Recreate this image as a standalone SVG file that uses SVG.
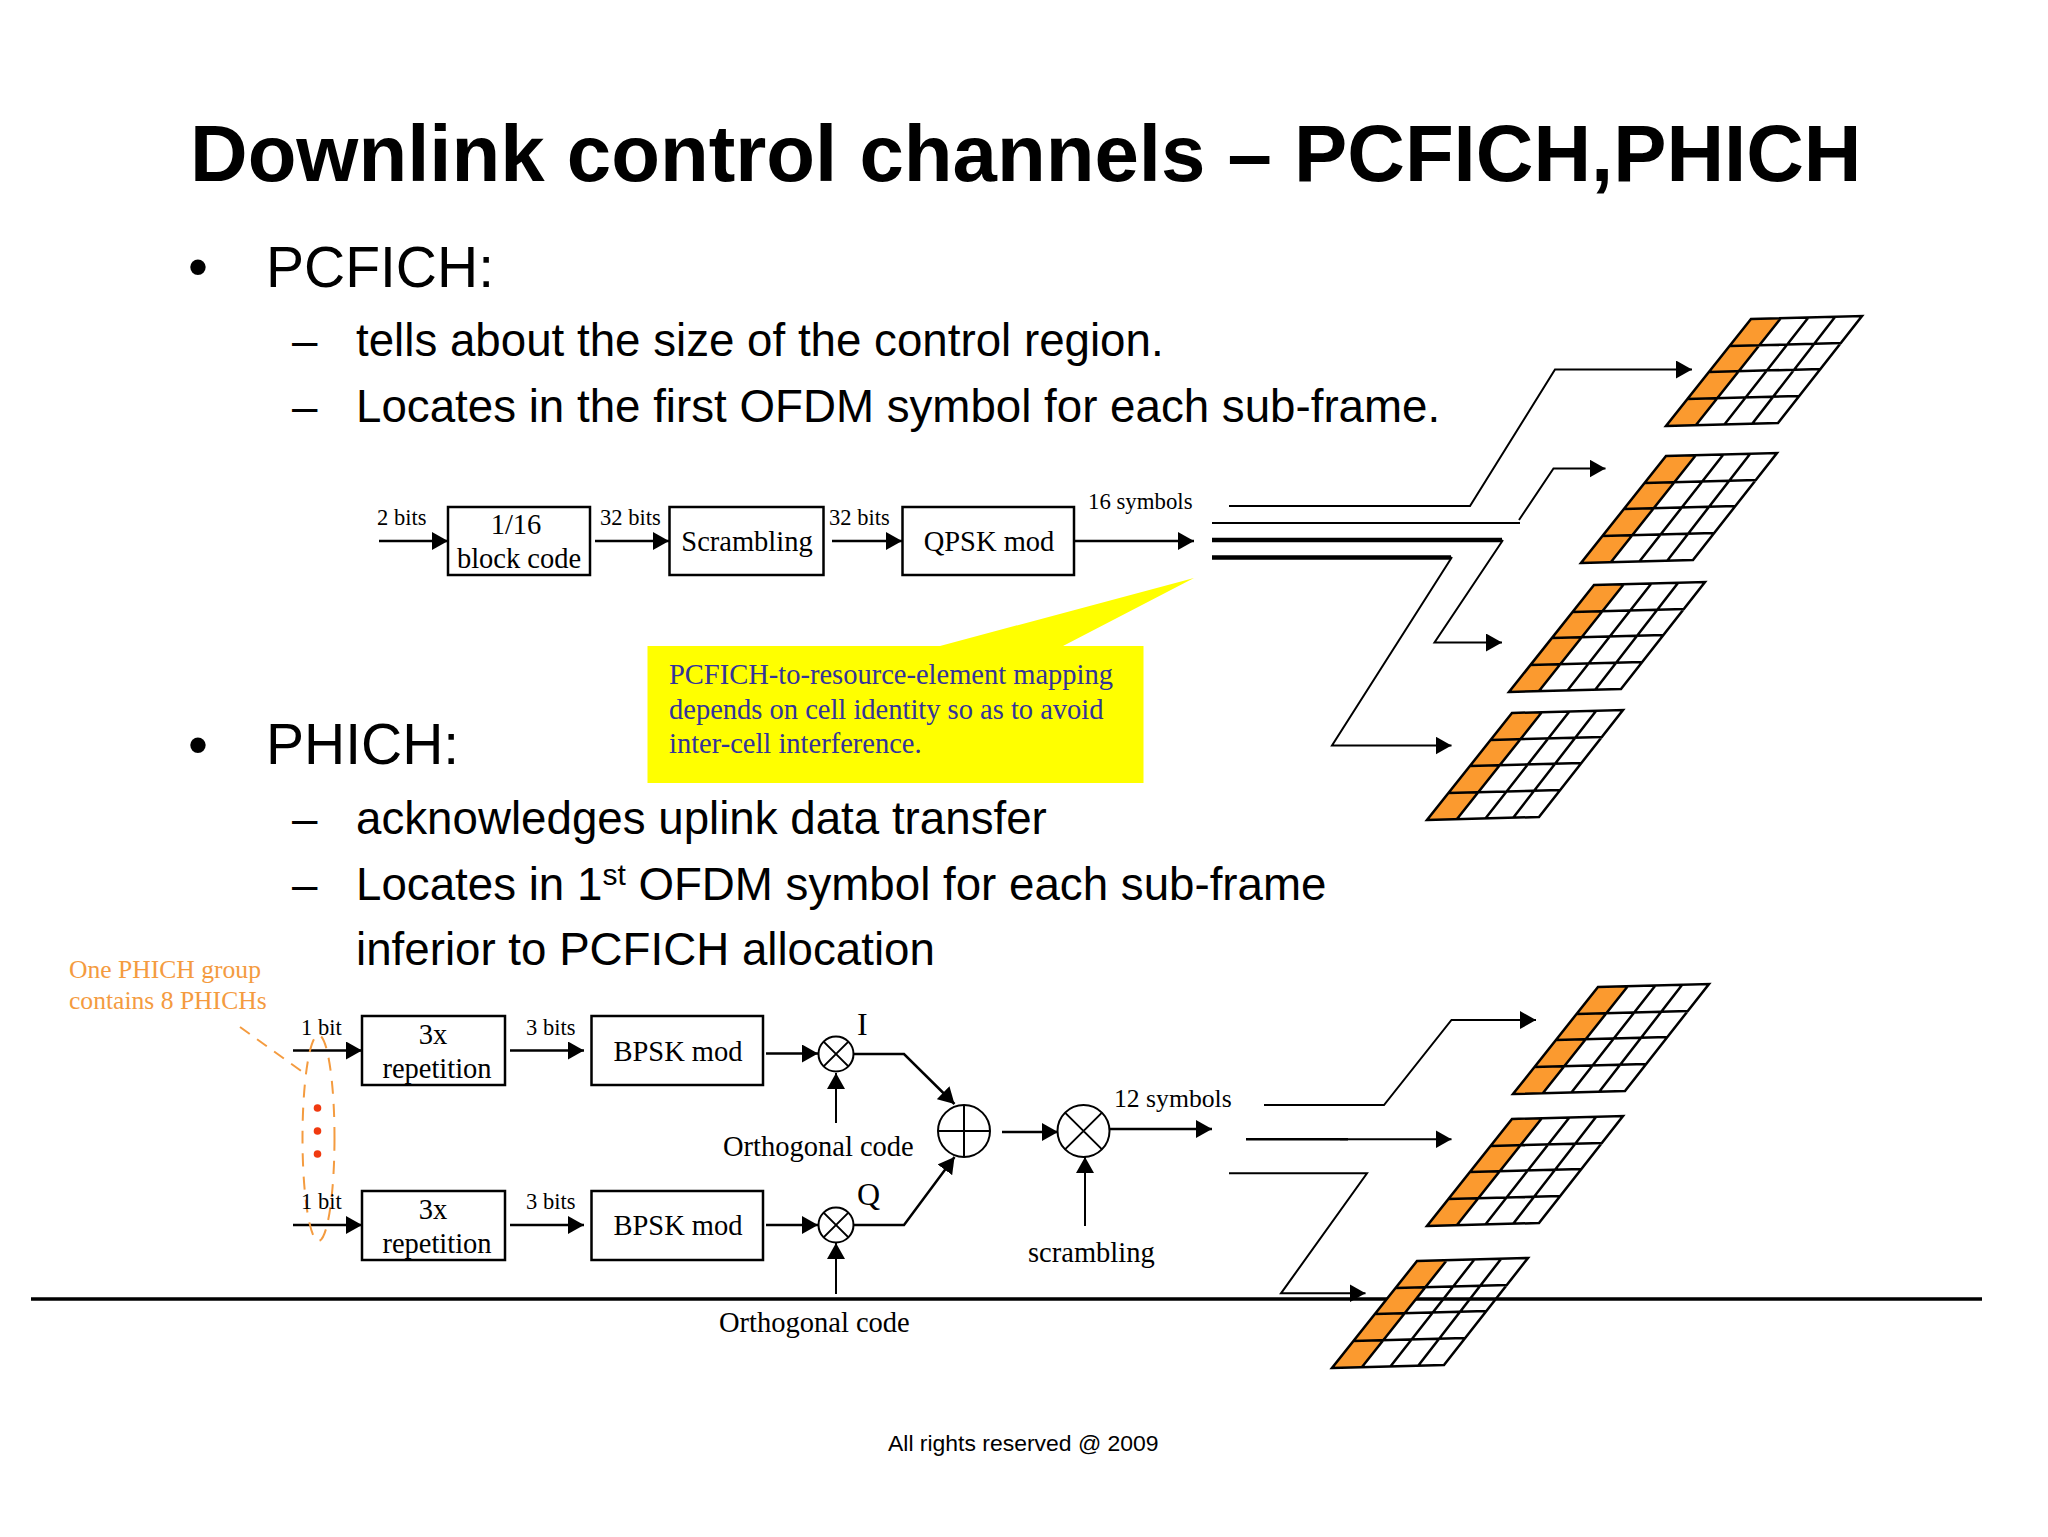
<svg xmlns="http://www.w3.org/2000/svg" width="2048" height="1537" viewBox="0 0 2048 1537">
<style>
text{font-family:"Liberation Serif","Times New Roman",serif;fill:#000;font-size:28.5px}
.s{font-family:"Liberation Sans",Arial,sans-serif}
.title{font-size:79.8px;font-weight:bold}
.b1{font-size:57px}
.b2{font-size:45.7px}
.sm{font-size:22.5px}
.m{text-anchor:middle}
.or{fill:#f49b3f;font-size:25.6px}
.bl{fill:#33339a}
.box{fill:#fff;stroke:#000;stroke-width:2.5}
.c{fill:#fff;stroke:#000;stroke-width:2}
.w{fill:none;stroke:#000;stroke-width:2.5;stroke-linejoin:miter}
.a{fill:none;stroke:#000;stroke-width:2.5;marker-end:url(#ah)}
.t{fill:none;stroke:#000;stroke-width:2;stroke-linejoin:miter;marker-end:url(#ah)}
.l{fill:none;stroke:#000;stroke-width:2;stroke-linejoin:miter}
.th{fill:none;stroke:#000;stroke-width:4.5}
</style>
<defs>
<marker id="ah" markerUnits="userSpaceOnUse" markerWidth="17" markerHeight="18" refX="16" refY="9" orient="auto"><path d="M0 0L16 9L0 18Z" fill="#000"/></marker>
<g id="grid">
<path d="M0 0L30-1L115-108L85-107Z" fill="#fb9a2f"/>
<path class="w" d="M0 0L112-3L196-110L85-107ZM21-27L133-30M43-54L154.500-57M64-80L175.500-83M30-1L115-108M58-1L142-108M86-2L169-109"/>
</g>
</defs>
<rect width="2048" height="1537" fill="#fff"/>
<line id="rule" x1="31" y1="1299" x2="1982" y2="1299" stroke="#000" stroke-width="3.5"/>
<g id="text">
<text class="s title" x="190" y="181">Downlink control channels – PCFICH,PHICH</text>
<text class="s b1" x="188" y="286">•</text>
<text class="s b1" x="266" y="287">PCFICH:</text>
<text class="s b2" x="292" y="356">–</text>
<text class="s b2" x="356" y="356">tells about the size of the control region.</text>
<text class="s b2" x="292" y="422">–</text>
<text class="s b2" x="356" y="422">Locates in the first OFDM symbol for each sub-frame.</text>
<text class="s b1" x="188" y="764">•</text>
<text class="s b1" x="266" y="764">PHICH:</text>
<text class="s b2" x="292" y="834">–</text>
<text class="s b2" x="356" y="834">acknowledges uplink data transfer</text>
<text class="s b2" x="292" y="900">–</text>
<text class="s b2" x="356" y="900">Locates in 1<tspan font-size="30" dy="-15">st</tspan><tspan dy="15"> OFDM symbol for each sub-frame</tspan></text>
<text class="s b2" x="356" y="965">inferior to PCFICH allocation</text>
<text class="s" x="888" y="1451" style="font-size:22.950px">All rights reserved @ 2009</text>
</g>
<g id="connectors">
<path class="a" d="M379 541H448"/>
<path class="a" d="M595 541H669"/>
<path class="a" d="M832 541H902"/>
<path class="a" d="M1074 541H1194"/>
<path class="t" d="M1229 506H1470L1555 369.500H1692"/>
<path class="l" d="M1212 523H1520"/>
<path class="t" d="M1519 520L1553.500 468.500H1605.500"/>
<path class="th" d="M1212 540H1502"/>
<path class="t" d="M1503 540L1434.500 642.500H1502"/>
<path class="th" d="M1212 557.500H1451"/>
<path class="t" d="M1452 557L1332 745.500H1451.500"/>
<path class="a" d="M293 1050.500H362"/>
<path class="a" d="M293 1225H362"/>
<path class="a" d="M510 1050.500H584"/>
<path class="a" d="M510 1225H584"/>
<path class="a" d="M766 1053.500H818"/>
<path class="a" d="M766 1225H818"/>
<path class="t" d="M836 1123V1073"/>
<path class="t" d="M836 1294V1243"/>
<path class="a" d="M854 1054H904L954.500 1104"/>
<path class="a" d="M854 1225H904L954.500 1157"/>
<path class="a" d="M1002 1132H1058"/>
<path class="a" d="M1109 1129H1212"/>
<path class="t" d="M1085 1226V1157"/>
<path class="t" d="M1264 1105H1384L1451.500 1020H1536"/>
<path class="th" style="stroke-width:2.500" d="M1246 1139.300H1348"/><path class="t" d="M1340 1139.300H1451.500"/>
<path class="t" d="M1229 1173.300H1367L1281 1293.300H1365.500"/>
</g>
<g id="callout">
<path d="M647.500 646H940L1194 578L1063 646H1143.500V783H647.500Z" fill="#ffff00"/>
<text class="bl" x="669" y="684">PCFICH-to-resource-element mapping</text>
<text class="bl" x="669" y="719">depends on cell identity so as to avoid</text>
<text class="bl" x="669" y="753">inter-cell interference.</text>
</g>
<g id="block-code"><rect class="box" x="448" y="507" width="142" height="68"/><text class="m" x="516" y="534">1/16</text><text class="m" x="519" y="568">block code</text></g>
<g id="scrambling-box"><rect class="box" x="669.500" y="507" width="154" height="68"/><text class="m" x="747" y="551">Scrambling</text></g>
<g id="qpsk"><rect class="box" x="902.500" y="507" width="171.500" height="68"/><text class="m" x="989" y="551">QPSK mod</text></g>
<g id="labels-top">
<text class="sm" x="377" y="525">2 bits</text>
<text class="sm" x="600" y="525">32 bits</text>
<text class="sm" x="829" y="525">32 bits</text>
<text style="font-size:22.800px" x="1088" y="509">16 symbols</text>
</g>
<g id="grid1"><use href="#grid" x="1666" y="426"/></g>
<g id="grid2"><use href="#grid" x="1581" y="563"/></g>
<g id="grid3"><use href="#grid" x="1509" y="692"/></g>
<g id="grid4"><use href="#grid" x="1427" y="820"/></g>
<g id="grid5"><use href="#grid" x="1513" y="1094"/></g>
<g id="grid6"><use href="#grid" x="1427" y="1226"/></g>
<g id="grid7"><use href="#grid" x="1332" y="1368"/></g>
<g id="phich-group">
<text class="or" x="69" y="978">One PHICH group</text>
<text class="or" x="69" y="1009">contains 8 PHICHs</text>
<path d="M240 1027L304 1073" fill="none" stroke="#f49b3f" stroke-width="2" stroke-dasharray="12 9"/>
<ellipse cx="318.500" cy="1138" rx="16" ry="103" fill="none" stroke="#f49b3f" stroke-width="2" stroke-dasharray="13 10"/>
<circle cx="317.500" cy="1108" r="3.800" fill="#f03a10"/><circle cx="317.500" cy="1131" r="3.800" fill="#f03a10"/><circle cx="317.500" cy="1154" r="3.800" fill="#f03a10"/>
<text class="sm" x="301" y="1035">1 bit</text>
<text class="sm" x="301" y="1209">1 bit</text>
</g>
<g id="rep1"><rect class="box" x="362" y="1016" width="143" height="69"/><text class="m" x="433" y="1044">3x</text><text class="m" x="437" y="1078">repetition</text></g>
<g id="rep2"><rect class="box" x="362" y="1191" width="143" height="69"/><text class="m" x="433" y="1219">3x</text><text class="m" x="437" y="1253">repetition</text></g>
<g id="bpsk1"><rect class="box" x="591.500" y="1016" width="171.500" height="69"/><text class="m" x="678" y="1061">BPSK mod</text></g>
<g id="bpsk2"><rect class="box" x="591.500" y="1191" width="171.500" height="69"/><text class="m" x="678" y="1235">BPSK mod</text></g>
<g id="labels-bits"><text class="sm" x="526" y="1035">3 bits</text><text class="sm" x="526" y="1209">3 bits</text></g>
<g id="mult-i"><circle class="c" cx="836" cy="1054" r="17.500"/><path class="l" d="M823.600 1041.600L848.400 1066.400M848.400 1041.600L823.600 1066.400"/><text x="857" y="1035" style="font-size:32px">I</text><text x="723" y="1156">Orthogonal code</text></g>
<g id="mult-q"><circle class="c" cx="836" cy="1225" r="17.500"/><path class="l" d="M823.600 1212.600L848.400 1237.400M848.400 1212.600L823.600 1237.400"/><text x="857" y="1205" style="font-size:32px">Q</text><text x="719" y="1332">Orthogonal code</text></g>
<g id="adder"><circle class="c" cx="964" cy="1131" r="26"/><path class="l" d="M964 1105V1157M938 1131H990"/></g>
<g id="mult-s"><circle class="c" cx="1083.500" cy="1131" r="26"/><path class="l" d="M1065 1112.600L1102 1149.400M1102 1112.600L1065 1149.400"/><text x="1114" y="1107" style="font-size:25.700px">12 symbols</text><text x="1028" y="1262">scrambling</text></g>
</svg>
